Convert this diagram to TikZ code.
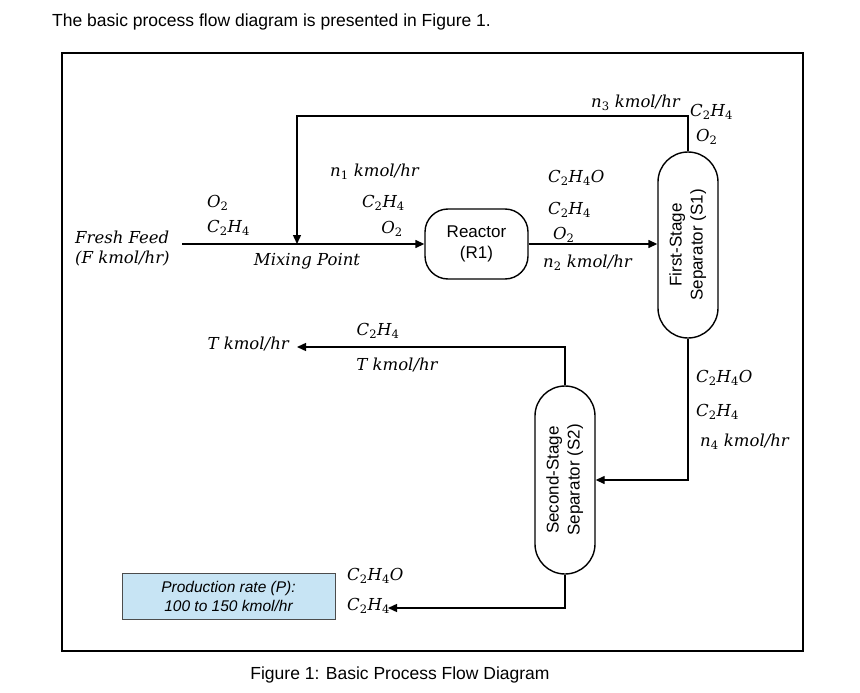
\RequirePackage{fix-cm}
\documentclass[tikz,border=0pt]{standalone}
\usepackage{fontspec}
\newfontfamily\arialf{Liberation Sans}
\newfontfamily\mathlike{DejaVu Serif}
\newcommand\sbs[1]{\textsubscript{\upshape #1}}
\usetikzlibrary{arrows.meta}
\definecolor{boxblue}{HTML}{C7E4F4}
\tikzset{
  flow/.style={line width=1.4pt,-{Triangle[length=9pt,width=8pt]}},
  lbl/.style={inner sep=0pt,font=\mathlike\itshape\fontsize{16.5}{20}\selectfont},
  sans/.style={inner sep=0pt,font=\arialf\fontsize{17.5}{21}\selectfont,align=center},
  unit/.style={draw,line width=1.4pt,inner sep=0pt,align=center,font=\arialf\fontsize{17}{21}\selectfont},
}
\begin{document}
\begin{tikzpicture}[x=1pt,y=-1pt]
\useasboundingbox (0,0) rectangle (860,693);
% heading and caption
\node[sans,anchor=west] (title) at (52,22) {The basic process flow diagram is presented in Figure 1.};
\node[sans] (caption) at (400,675) {Figure 1: Basic Process Flow Diagram};
% frame
\draw[line width=1.2pt] (62,53) rectangle (803,651);
% units
\node[unit,rounded corners=23pt,minimum width=103pt,minimum height=70pt] (R1) at (476.5,244) {Reactor\\(R1)};
\node[unit,rounded corners=30pt,minimum width=60pt,minimum height=186pt] (S1) at (688,245)
  {\rotatebox{90}{\begin{tabular}{@{}c@{}}First-Stage\\Separator (S1)\end{tabular}}};
\node[unit,rounded corners=30pt,minimum width=60pt,minimum height=188pt] (S2) at (565,480)
  {\rotatebox{90}{\begin{tabular}{@{}c@{}}Second-Stage\\Separator (S2)\end{tabular}}};
\node[draw=gray!60!black,line width=1pt,fill=boxblue,minimum width=213pt,minimum height=46pt,inner sep=0pt,
  align=center,font=\arialf\itshape\fontsize{15.5}{19}\selectfont] (P) at (228.5,596)
  {Production rate (P):\\100 to 150 kmol/hr};
% coordinates
\coordinate (feed) at (182,244);
\coordinate (mix) at (297,244);
\coordinate (rtop) at (297,116);
\coordinate (s1top) at (S1.north |- rtop);
\coordinate (s1low) at (S1.south |- S2.east);
\coordinate (s2top) at (S2.north |- 0,347);
\coordinate (tend) at (297,347);
\coordinate (s2low) at (S2.south |- 0,608);
\coordinate (pend) at (388,608);
% connectors
\draw[flow] (feed) -- (R1.west);
\draw[flow] (S1.north) -- (s1top) -- (rtop) -- (mix);
\draw[flow] (R1.east) -- (S1.west |- R1.east);
\draw[flow] (S1.south) -- (s1low) -- (S2.east);
\draw[flow] (S2.north) -- (s2top) -- (tend);
\draw[flow] (S2.south) -- (s2low) -- (pend);
% labels
\node[lbl,anchor=west] (ff1) at (75,237) {Fresh Feed};
\node[lbl,anchor=west] (ff2) at (75,259) {(F kmol/hr)};
\node[lbl,anchor=west] (a1) at (207,203) {O\sbs{2}};
\node[lbl,anchor=west] (a2) at (207,228) {C\sbs{2}H\sbs{4}};
\node[lbl,anchor=east] (b1) at (419,172) {n\sbs{1} kmol/hr};
\node[lbl,anchor=east] (b2) at (405,203) {C\sbs{2}H\sbs{4}};
\node[lbl,anchor=east] (b3) at (403,229) {O\sbs{2}};
\node[lbl] (mixl) at (307,261) {Mixing Point};
\node[lbl,anchor=west] (c1) at (548,178) {C\sbs{2}H\sbs{4}O};
\node[lbl,anchor=west] (c2) at (548,210) {C\sbs{2}H\sbs{4}};
\node[lbl,anchor=west] (c3) at (553,235) {O\sbs{2}};
\node[lbl,anchor=west] (c4) at (543,263) {n\sbs{2} kmol/hr};
\node[lbl,anchor=east] (d1) at (680,103) {n\sbs{3} kmol/hr};
\node[lbl,anchor=west] (d2) at (690,112) {C\sbs{2}H\sbs{4}};
\node[lbl,anchor=west] (d3) at (696,137) {O\sbs{2}};
\node[lbl,anchor=west] (e1) at (696,378) {C\sbs{2}H\sbs{4}O};
\node[lbl,anchor=west] (e2) at (696,412) {C\sbs{2}H\sbs{4}};
\node[lbl,anchor=west] (e3) at (700,442) {n\sbs{4} kmol/hr};
\node[lbl,anchor=east] (f1) at (289,344) {T kmol/hr};
\node[lbl] (f2) at (378,331) {C\sbs{2}H\sbs{4}};
\node[lbl] (f3) at (397,365) {T kmol/hr};
\node[lbl,anchor=west] (g1) at (347,576) {C\sbs{2}H\sbs{4}O};
\node[lbl,anchor=west] (g2) at (347,606) {C\sbs{2}H\sbs{4}};
\end{tikzpicture}
\end{document}
